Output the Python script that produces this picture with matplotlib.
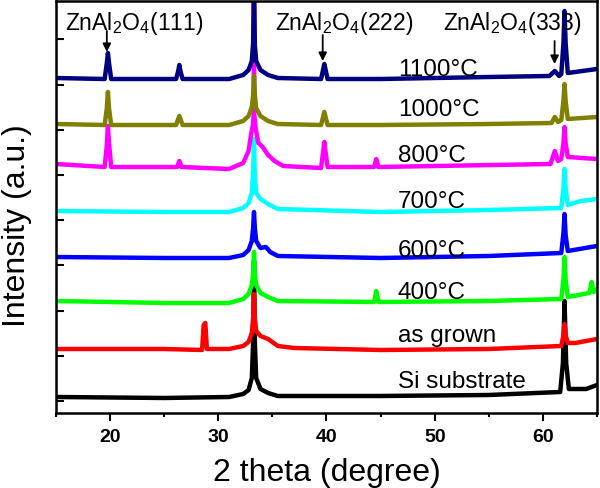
import numpy as np
import matplotlib
matplotlib.use("Agg")
import matplotlib.pyplot as plt
from matplotlib.ticker import MultipleLocator

plt.rcParams['font.family'] = ['Liberation Sans', 'DejaVu Sans']
plt.rcParams['mathtext.fontset'] = 'custom'
plt.rcParams['mathtext.rm'] = 'Liberation Sans'
plt.rcParams['mathtext.default'] = 'regular'

# XRD patterns (2 theta in degree, intensity in a.u. with the stacking offset included)
si_x = [15, 25, 31.0, 32.3, 32.8, 33.1, 33.22, 33.3, 33.38, 33.5, 33.9, 34.6, 35.5, 45, 55,
        61.6, 61.85, 62.0, 62.15, 62.4, 64, 65]
si_y = [16, 15, 16, 19, 23, 35, 70, 152, 70, 35, 24, 20, 17, 17, 18,
        21, 50, 112, 50, 24, 24, 28]

grown_x = [15, 25, 28.5, 28.65, 28.8, 28.95, 31.0, 32.3, 32.8, 33.1, 33.22, 33.3, 33.38, 33.5,
           33.9, 34.6, 35.5, 37, 45, 55, 61.7, 61.9, 62.0, 62.1, 62.3, 63, 65]
grown_y = [64, 64, 63, 88, 90, 64, 64, 67, 71, 80, 95, 119, 95, 82,
           77, 74, 67, 65, 63, 64, 67, 78, 89, 78, 70, 70, 74]

t400_x = [15, 25, 31.0, 32.3, 32.8, 33.1, 33.22, 33.3, 33.38, 33.5, 33.9, 34.6, 35.5,
          44.4, 44.6, 44.8, 55, 61.7, 61.9, 62.0, 62.1, 62.3, 64.3, 64.5, 64.7, 65]
t400_y = [112, 110, 110, 114, 119, 128, 140, 161, 140, 128, 120, 116, 112,
          111, 122, 111, 112, 114, 134, 156, 134, 116, 120, 131, 121, 124]

t600_x = [15, 25, 31.0, 32.3, 32.8, 33.1, 33.22, 33.3, 33.38, 33.5, 33.9, 34.4, 34.8, 35.5,
          45, 55, 61.7, 61.9, 62.0, 62.1, 62.3, 65]
t600_y = [156, 155, 155, 158, 163, 172, 185, 201, 185, 172, 165, 166, 161, 157,
          155, 157, 160, 180, 199, 178, 162, 167]

t700_x = [15, 25, 31.0, 32.3, 32.8, 33.1, 33.22, 33.3, 33.38, 33.5, 33.9, 34.6, 35.5,
          45, 55, 61.7, 61.9, 62.0, 62.1, 62.3, 63.5, 65]
t700_y = [202, 201, 201, 205, 210, 220, 240, 274, 235, 220, 214, 209, 204,
          201, 203, 205, 225, 244, 225, 208, 212, 214]

t800_x = [15, 19.5, 19.7, 19.8, 19.9, 20.1, 26.2, 26.4, 26.6, 31.0, 32.3, 32.8, 33.05, 33.2,
          33.28, 33.3, 33.32, 33.45, 33.7, 34.1, 34.6, 35.2, 36, 39.5, 39.7, 39.8, 39.9, 40.1,
          44.4, 44.6, 44.8, 60.7, 61.1, 61.4, 61.7, 61.9, 62.0, 62.1, 62.3, 65]
t800_y = [249, 246, 268, 287, 270, 246, 246, 252, 246, 244, 250, 262, 280, 288,
          300, 430, 300, 285, 270, 266, 258, 252, 247, 245, 262, 271, 262, 246,
          246, 254, 246, 249, 262, 252, 254, 270, 286, 270, 256, 254]

t1000_x = [15, 19.5, 19.7, 19.8, 19.9, 20.1, 26.1, 26.4, 26.7, 31.0, 32.3, 32.8, 33.1, 33.22,
           33.3, 33.38, 33.5, 33.9, 34.6, 35.5, 39.5, 39.8, 40.1, 45, 55, 60.8, 61.1, 61.4,
           61.7, 61.9, 62.0, 62.1, 62.3, 65]
t1000_y = [289, 288, 305, 321, 305, 288, 288, 297, 288, 288, 292, 297, 306, 318,
           337, 318, 305, 297, 292, 289, 288, 301, 288, 288, 289, 290, 296, 291,
           293, 312, 329, 312, 294, 296]

t1100_x = [15, 19.5, 19.7, 19.8, 19.9, 20.1, 26.1, 26.3, 26.4, 26.5, 26.7, 31.0, 32.3, 32.8,
           33.1, 33.22, 33.3, 33.38, 33.5, 33.9, 34.6, 35.5, 39.5, 39.7, 39.8, 39.9, 40.1, 45,
           55, 60.6, 61.1, 61.5, 61.7, 61.9, 62.0, 62.1, 62.3, 65]
t1100_y = [335, 334, 350, 360, 350, 334, 334, 342, 348, 342, 334, 334, 338, 343,
           352, 370, 430, 368, 352, 343, 338, 335, 334, 344, 349, 344, 334, 334,
           336, 337, 342, 337, 339, 370, 402, 370, 340, 344]

labels = ['Si substrate', 'as grown', '400°C', '600°C', '700°C', '800°C', '1000°C', '1100°C']
label_y = [26, 72, 115, 157, 206, 252, 298, 338]
colors = ['#000000', '#ff0000', '#00ff00', '#0000ff', '#00ffff', '#ff00ff', '#808000', '#000080']

curves = [(si_x, si_y), (grown_x, grown_y), (t400_x, t400_y), (t600_x, t600_y),
          (t700_x, t700_y), (t800_x, t800_y), (t1000_x, t1000_y), (t1100_x, t1100_y)]

peak_names = ['ZnAl$_2$O$_4$(111)', 'ZnAl$_2$O$_4$(222)', 'ZnAl$_2$O$_4$(333)']
peak_pos = [19.7, 39.65, 61.08]
text_x = [15.85, 35.2, 50.8]
arrow_from = [382, 378, 372]
arrow_to = [361, 352, 349]

fig = plt.figure(figsize=(6, 4.89), dpi=100)
ax = fig.add_axes([0.0933, 0.1534, 0.9017, 0.8425])

for (xs, ys), c in zip(curves, colors):
    ax.plot(xs, ys, color=c, lw=3.2)

for lab, ly in zip(labels, label_y):
    ax.text(46.6, ly, lab, fontsize=17.5, va='baseline', ha='left')

for name, px, tx, a0, a1 in zip(peak_names, peak_pos, text_x, arrow_from, arrow_to):
    ax.text(tx, 384, name, fontsize=16.5, va='baseline', ha='left')
    ax.annotate('', xy=(px, a1), xytext=(px, a0),
                arrowprops=dict(arrowstyle='-|>', color='k', lw=1.3, mutation_scale=12,
                                shrinkA=0, shrinkB=0))

ax.set_xlim(15, 65)
ax.set_ylim(0, 412)
ax.xaxis.set_major_locator(MultipleLocator(10))
ax.xaxis.set_minor_locator(MultipleLocator(5))
ax.set_yticks([12, 57, 102, 148, 193, 238, 283, 328, 374])
ax.set_yticklabels([])
ax.tick_params(axis='x', which='major', direction='out', length=6, width=1.5, pad=5,
               labelsize=14)
ax.tick_params(axis='x', which='minor', direction='out', length=3, width=1.5)
ax.tick_params(axis='y', direction='in', length=6, width=1.5, left=True, right=False)
for lbl in ax.get_xticklabels():
    lbl.set_fontweight('bold')
for sp in ax.spines.values():
    sp.set_linewidth(1.8)

fig.text(0.544, 8 / 489, '2 theta (degree)', fontsize=23, ha='center', va='baseline')
fig.text(17 / 600, 1 - 226 / 489, 'Intensity (a.u.)', fontsize=23, rotation=90,
         ha='center', va='center')

fig.savefig('out.png', dpi=100)
